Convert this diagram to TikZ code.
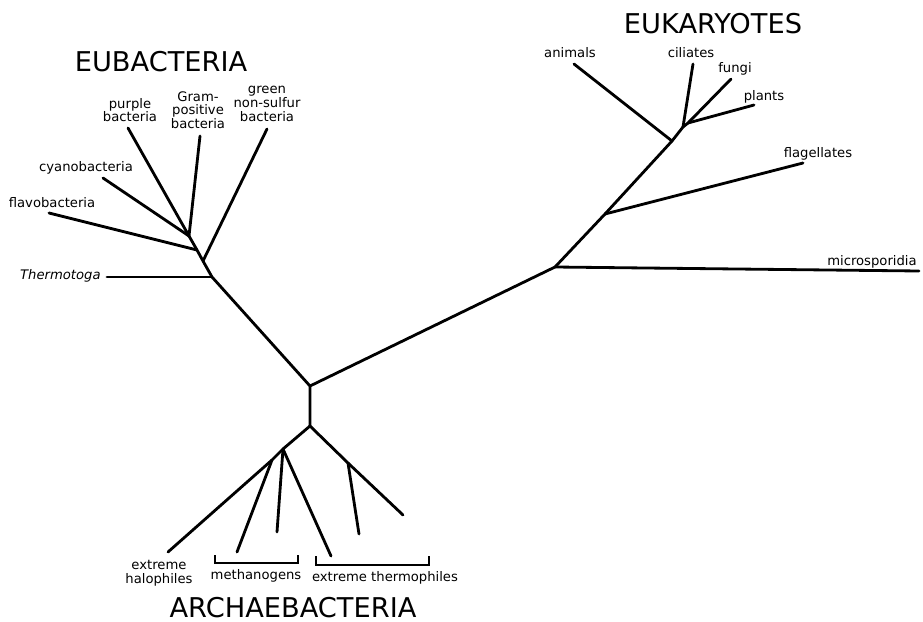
\documentclass[tikz,border=0pt]{standalone}
\usepackage{fontspec}
\setmainfont{DejaVu Sans}

\begin{document}
\begin{tikzpicture}[x=0.02cm, y=-0.02cm,
		branch/.style={line width=1.6pt, line cap=round, line join=round},
		bracket/.style={line width=0.7pt},
		lbl/.style={font=\fontsize{7.5}{7.8}\selectfont, inner sep=0pt, align=center},
		group/.style={font=\fontsize{15.5}{17}\selectfont, inner sep=0pt}]
		\useasboundingbox (0,0) rectangle (923,622);
		
		%%%%% JUNCTIONS %%%%%
		\coordinate (root) at (310, 386);
		\coordinate (eu1) at (212, 277);
		\coordinate (eu2) at (203, 261);
		\coordinate (eu3) at (197, 250);
		\coordinate (eu4) at (189, 236);
		\coordinate (ek0) at (555, 267);
		\coordinate (ek1) at (605, 214);
		\coordinate (ek2) at (672, 141);
		\coordinate (ek3) at (683, 127);
		\coordinate (ek4) at (688, 123);
		\coordinate (ar0) at (310, 426);
		\coordinate (ar1) at (283, 449);
		\coordinate (ar2) at (272, 460);
		\coordinate (ar3) at (348, 463);
		
		%%%%% LEAVES %%%%%
		\coordinate (thermotoga) at (107, 277);
		\coordinate (flavo) at (49, 213);
		\coordinate (cyano) at (103, 178);
		\coordinate (purple) at (128, 128);
		\coordinate (gram) at (200, 136);
		\coordinate (green) at (267, 129);
		\coordinate (micro) at (919, 271);
		\coordinate (flag) at (803, 163);
		\coordinate (animals) at (574, 64);
		\coordinate (ciliates) at (693, 64);
		\coordinate (fungi) at (731, 79);
		\coordinate (plants) at (754, 105);
		\coordinate (halo) at (168, 552);
		\coordinate (meth1) at (237, 552);
		\coordinate (meth2) at (277, 532);
		\coordinate (therm1) at (331, 556);
		\coordinate (therm2) at (359, 534);
		\coordinate (therm3) at (403, 515);
		
		%%%%% TREE %%%%%
		\draw[branch] (ar0) -- (root) -- (eu1) -- (eu2) -- (eu3) -- (eu4);
		\draw[branch] (eu1) -- (thermotoga);
		\draw[branch] (eu2) -- (green);
		\draw[branch] (eu3) -- (flavo);
		\draw[branch] (eu4) -- (cyano);
		\draw[branch] (eu4) -- (purple);
		\draw[branch] (eu4) -- (gram);
		
		\draw[branch] (root) -- (ek0) -- (ek1) -- (ek2) -- (ek3) -- (ek4);
		\draw[branch] (ek0) -- (micro);
		\draw[branch] (ek1) -- (flag);
		\draw[branch] (ek2) -- (animals);
		\draw[branch] (ek3) -- (ciliates);
		\draw[branch] (ek4) -- (fungi);
		\draw[branch] (ek4) -- (plants);
		
		\draw[branch] (ar0) -- (ar1) -- (ar2) -- (halo);
		\draw[branch] (ar2) -- (meth1);
		\draw[branch] (ar1) -- (meth2);
		\draw[branch] (ar1) -- (therm1);
		\draw[branch] (ar0) -- (ar3) -- (therm3);
		\draw[branch] (ar3) -- (therm2);
		
		%%%%% BRACKETS %%%%%
		\draw[bracket] (215, 555) -- (215, 563) -- (298, 563) -- (298, 555);
		\draw[bracket] (316, 556) -- (316, 565) -- (429, 565) -- (429, 556);
		
		%%%%% LABELS %%%%%
		\node[group] (eubact) at (161, 62) {EUBACTERIA};
		\node[group] (eukary) at (713, 24) {EUKARYOTES};
		\node[group] (archae) at (293, 608) {ARCHAEBACTERIA};
		
		\node[lbl, anchor=east] (thermotogalbl) at (101, 276) {\itshape Thermotoga};
		\node[lbl] (flavolbl) at (52, 203) {flavobacteria};
		\node[lbl] (cyanolbl) at (86, 168) {cyanobacteria};
		\node[lbl] (purplelbl) at (130, 110) {purple\\bacteria};
		\node[lbl] (gramlbl) at (198, 110) {Gram-\\positive\\bacteria};
		\node[lbl] (greenlbl) at (267, 104) {green\\non-sulfur\\bacteria};
		
		\node[lbl, anchor=east] (microlbl) at (917, 262) {microsporidia};
		\node[lbl] (flaglbl) at (818, 154) {flagellates};
		\node[lbl] (animalslbl) at (570, 53) {animals};
		\node[lbl] (ciliateslbl) at (691, 53) {ciliates};
		\node[lbl] (fungilbl) at (735, 69) {fungi};
		\node[lbl] (plantslbl) at (764, 97) {plants};
		
		\node[lbl] (halolbl) at (159, 573) {extreme\\halophiles};
		\node[lbl] (methlbl) at (256, 576) {methanogens};
		\node[lbl] (thermlbl) at (385, 578) {extreme thermophiles};
	\end{tikzpicture}
\end{document}
